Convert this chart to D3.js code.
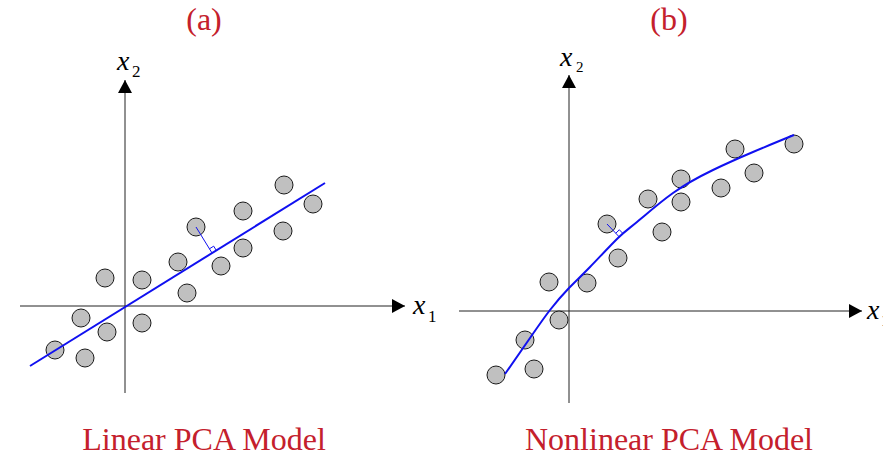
<!DOCTYPE html>
<html>
<head>
<meta charset="utf-8">
<script src="https://cdn.jsdelivr.net/npm/d3@7"></script>
<style>
  body { margin: 0; background: #fff; }
  text { font-family: "Liberation Serif", "Times New Roman", serif; }
</style>
</head>
<body>
<script>
const panelTitles = ["(a)", "(b)"];
const captions = ["Linear PCA Model", "Nonlinear PCA Model"];

// panel (a): observations and the first principal direction
const linX = [-7.0, -4.4, -4.0, -1.8, -2.0, 1.7, 1.7, 5.3, 6.2, 7.1, 9.6, 11.8, 15.8, 15.9, 11.8, 18.8];
const linY = [-4.4, -1.2, -5.2, -2.6, 2.8, 2.6, -1.7, 4.4, 1.3, 7.9, 4.0, 5.8, 7.5, 12.1, 9.5, 10.2];
const linFit = [[-9.5, -6.0], [20.0, 12.3]];
const linProjected = 9;

// panel (b): observations and the principal curve
const nonX = [-7.3, -3.5, -4.4, -1.0, -2.0, 1.8, 4.9, 9.3, 3.8, 7.9, 11.2, 11.2, 15.2, 16.6, 18.5, 22.5];
const nonY = [-6.4, -5.8, -2.9, -0.9, 2.9, 2.8, 5.3, 7.9, 8.7, 11.2, 13.2, 10.9, 12.3, 16.2, 13.8, 16.7];
const nonCurve = [[-6.4, -6.3], [-3.9, -2.7], [-1.9, 0.1], [0, 2.3], [2.1, 4.4], [4.9, 7.3],
                  [6.8, 8.9], [10.4, 11.8], [14.4, 14.1], [18.4, 15.9], [22.5, 17.6]];
const nonProjected = 8;

const W = 883, H = 457;
const red = "#c4202c", blue = "#1010f0";

const svg = d3.select("body").append("svg")
    .attr("width", W)
    .attr("height", H);

svg.append("defs").append("marker")
    .attr("id", "arrow")
    .attr("viewBox", "0 0 13 14")
    .attr("refX", 13).attr("refY", 7)
    .attr("markerWidth", 13).attr("markerHeight", 14)
    .attr("markerUnits", "userSpaceOnUse")
    .attr("orient", "auto")
    .append("path")
    .attr("d", "M0,0L13,7L0,14Z")
    .attr("fill", "#000");

const panels = [
    { title: panelTitles[0], caption: captions[0], cx: 204,
      xDom: [-10.5, 28], xRange: [20, 405], yDom: [-8.7, 22.6], yRange: [393, 80],
      xs: linX, ys: linY, fit: linFit, curve: d3.curveLinear, proj: linProjected,
      x2: { x: 117, y: 70, sx: 132, sy: 77, ss: 17 }, x1: { x: 413, y: 314, sx: 428, sy: 322 } },
    { title: panelTitles[1], caption: captions[1], cx: 669,
      xDom: [-11, 29.3], xRange: [459, 862], yDom: [-9.2, 23.6], yRange: [403, 75],
      xs: nonX, ys: nonY, fit: nonCurve, curve: d3.curveNatural, proj: nonProjected,
      x2: { x: 560, y: 66, sx: 576, sy: 72, ss: 15 }, x1: { x: 867, y: 319, sx: 881, sy: 326 } }
];

panels.forEach(function (p) {
    const g = svg.append("g");
    const x = d3.scaleLinear().domain(p.xDom).range(p.xRange),
        y = d3.scaleLinear().domain(p.yDom).range(p.yRange);

    // axes
    g.append("line")
        .attr("x1", x(p.xDom[0])).attr("x2", x(p.xDom[1]))
        .attr("y1", y(0)).attr("y2", y(0))
        .attr("stroke", "#222").attr("stroke-width", 1)
        .attr("marker-end", "url(#arrow)");
    g.append("line")
        .attr("x1", x(0)).attr("x2", x(0))
        .attr("y1", y(p.yDom[0])).attr("y2", y(p.yDom[1]))
        .attr("stroke", "#222").attr("stroke-width", 1)
        .attr("marker-end", "url(#arrow)");

    // axis labels
    const lab = function (a, sub) {
        const t = g.append("text").attr("fill", "#000");
        t.append("tspan").attr("x", a.x).attr("y", a.y)
            .attr("font-size", 28).attr("font-style", "italic").text("x");
        t.append("tspan").attr("x", a.sx).attr("y", a.sy)
            .attr("font-size", a.ss || 17).text(sub);
    };
    lab(p.x2, "2");
    lab(p.x1, "1");

    // data points
    const pts = p.xs.map((v, i) => [v, p.ys[i]]);
    g.selectAll("circle").data(pts).join("circle")
        .attr("cx", d => x(d[0])).attr("cy", d => y(d[1]))
        .attr("r", 9)
        .attr("fill", "#c0c0c0")
        .attr("stroke", "#1a1a1a").attr("stroke-width", 1);

    // principal line / curve
    const line = d3.line().x(d => x(d[0])).y(d => y(d[1])).curve(p.curve);
    const path = g.append("path")
        .attr("d", line(p.fit))
        .attr("fill", "none")
        .attr("stroke", blue).attr("stroke-width", 2);

    // orthogonal projection of one point onto the fit
    const node = path.node(), len = node.getTotalLength();
    const P = [x(pts[p.proj][0]), y(pts[p.proj][1])];
    let best = 0, bestD = Infinity;
    for (let s = 0; s <= len; s += 0.25) {
        const q = node.getPointAtLength(s);
        const d = (q.x - P[0]) ** 2 + (q.y - P[1]) ** 2;
        if (d < bestD) { bestD = d; best = s; }
    }
    const f = node.getPointAtLength(best),
        a = node.getPointAtLength(Math.max(0, best - 2)),
        b = node.getPointAtLength(Math.min(len, best + 2));
    let ux = b.x - a.x, uy = b.y - a.y;
    const ul = Math.hypot(ux, uy); ux /= ul; uy /= ul;
    let nx = P[0] - f.x, ny = P[1] - f.y;
    const nl = Math.hypot(nx, ny); nx /= nl; ny /= nl;
    const sq = 5;

    g.append("line")
        .attr("x1", P[0]).attr("y1", P[1])
        .attr("x2", f.x).attr("y2", f.y)
        .attr("stroke", blue).attr("stroke-width", 1);
    g.append("path")
        .attr("d", "M" + (f.x + sq * ux) + "," + (f.y + sq * uy) +
            "L" + (f.x + sq * ux + sq * nx) + "," + (f.y + sq * uy + sq * ny) +
            "L" + (f.x + sq * nx) + "," + (f.y + sq * ny))
        .attr("fill", "none")
        .attr("stroke", blue).attr("stroke-width", 1);

    // titles
    g.append("text")
        .attr("x", p.cx).attr("y", 30)
        .attr("text-anchor", "middle")
        .attr("font-size", 32).attr("fill", red)
        .text(p.title);
    g.append("text")
        .attr("x", p.cx).attr("y", 450)
        .attr("text-anchor", "middle")
        .attr("font-size", 32).attr("fill", red)
        .text(p.caption);
});
</script>
</body>
</html>
